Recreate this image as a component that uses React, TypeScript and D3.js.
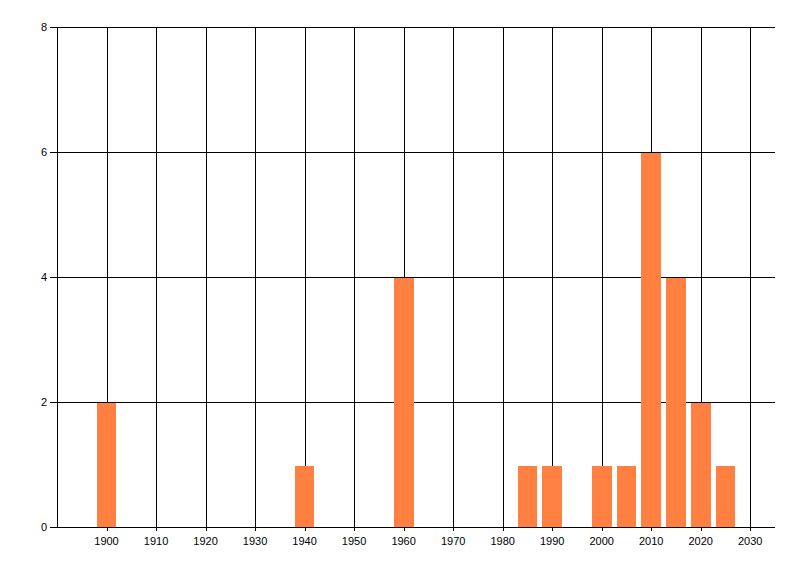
import React from "react";
import * as d3 from "d3";

const years = [1900, 1940, 1960, 1985, 1990, 2000, 2005, 2010, 2015, 2020, 2025];
const counts = [2, 1, 4, 1, 1, 1, 1, 6, 4, 2, 1];
const xTicks = [1900, 1910, 1920, 1930, 1940, 1950, 1960, 1970, 1980, 1990, 2000, 2010, 2020, 2030];
const yTicks = [0, 2, 4, 6, 8];

const W = 800, H = 576;
const left = 57, right = 775, top = 27, bottom = 527;

export default function App() {
  const x = d3.scaleLinear().domain([1890, 2035]).range([left, right]);
  const y = d3.scaleLinear().domain([0, 8]).range([bottom, top]);
  const barHalf = 2;
  const font = "'Liberation Sans', Arial, sans-serif";
  const px = (v: number) => Math.round(v) + 0.5;
  return (
    <div style={{ position: "fixed", left: 0, top: 0 }}>
      <svg width={W} height={H} style={{ display: "block", background: "#fff" }}>
        {xTicks.map((t) => (
          <line key={"vx" + t} x1={px(x(t))} x2={px(x(t))} y1={top} y2={bottom + 4} stroke="#000" strokeWidth={1} />
        ))}
        {yTicks.map((t) => (
          <line key={"hy" + t} x1={left - 7} x2={right} y1={px(y(t))} y2={px(y(t))} stroke="#000" strokeWidth={1} />
        ))}
        <line x1={px(left)} x2={px(left)} y1={top} y2={bottom} stroke="#000" />
        {years.map((yr, i) => {
          const x0 = Math.round(x(yr - barHalf));
          const x1 = Math.round(x(yr + barHalf));
          const y0 = Math.round(y(counts[i]));
          return (
            <rect key={"b" + yr} x={x0} y={y0 + 1} width={x1 - x0} height={bottom - y0 - 1} fill="#ff8040" />
          );
        })}
        {xTicks.map((t) => (
          <text key={"xl" + t} x={x(t)} y={545} textAnchor="middle" fontFamily={font} fontSize={11} fill="#000">
            {t}
          </text>
        ))}
        {yTicks.map((t) => (
          <text key={"yl" + t} x={47} y={y(t) + 4} textAnchor="end" fontFamily={font} fontSize={11} fill="#000">
            {t}
          </text>
        ))}
      </svg>
    </div>
  );
}
